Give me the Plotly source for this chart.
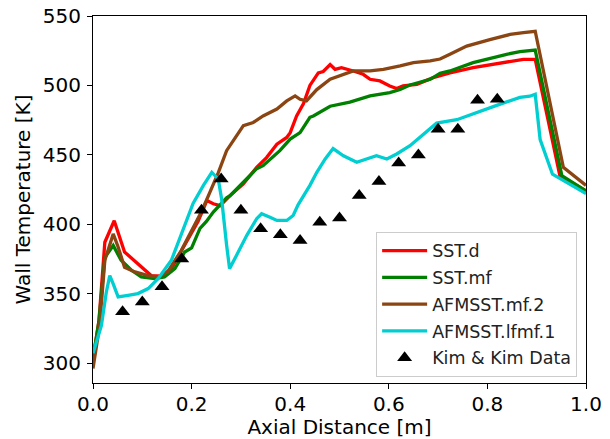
import plotly.graph_objects as go

# Axial distance [m] and wall temperature [K] for each turbulence model
x_sst_d = [0.0, 0.012, 0.024, 0.043, 0.064, 0.091, 0.118, 0.139, 0.159, 0.178,
           0.197, 0.213, 0.231, 0.244, 0.258, 0.278, 0.305, 0.332, 0.352, 0.373,
           0.393, 0.400, 0.413, 0.427, 0.440, 0.457, 0.467, 0.481, 0.491, 0.504,
           0.528, 0.548, 0.562, 0.582, 0.602, 0.616, 0.629, 0.657, 0.690, 0.724,
           0.771, 0.839, 0.873, 0.897, 0.947, 1.0]
y_sst_d = [303, 330, 387, 402.5, 380, 371.6, 363, 362.5, 368, 380,
           392, 402, 417, 414.7, 413.4, 420.6, 429, 441, 448, 457.7,
           462.5, 466, 478, 487, 500, 509, 510, 515, 511.6, 512.8,
           510.4, 508, 504.4, 503.2, 499.6, 497.7, 499.6, 500.8, 505.6, 509,
           512.8, 516.4, 518.8, 518.8, 435, 424]

x_sst_mf = [0.0, 0.012, 0.024, 0.041, 0.057, 0.078, 0.098, 0.125, 0.145, 0.166,
            0.186, 0.200, 0.217, 0.230, 0.244, 0.271, 0.278, 0.312, 0.332, 0.345,
            0.379, 0.400, 0.420, 0.440, 0.447, 0.481, 0.521, 0.562, 0.602, 0.623,
            0.643, 0.684, 0.704, 0.724, 0.771, 0.839, 0.866, 0.897, 0.951, 1.0]
y_sst_mf = [303, 330, 376, 384.7, 374, 366.8, 362, 360.8, 362, 368,
            380, 383, 397, 402, 408.7, 419, 420.5, 432.6, 440, 442.2,
            453, 461.3, 466, 477, 478, 485, 488, 492.4, 494.8, 497,
            500.3, 504.4, 508.8, 510.4, 516.4, 522.4, 524.3, 525.4, 435, 424]

x_afm_mf2 = [0.0, 0.0135, 0.024, 0.041, 0.051, 0.064, 0.085, 0.112, 0.132, 0.152,
             0.179, 0.200, 0.220, 0.237, 0.254, 0.271, 0.291, 0.305, 0.325, 0.345,
             0.373, 0.393, 0.410, 0.420, 0.433, 0.454, 0.481, 0.508, 0.528, 0.562,
             0.589, 0.623, 0.650, 0.684, 0.704, 0.724, 0.758, 0.805, 0.846, 0.873,
             0.897, 0.954, 1.0]
y_afm_mf2 = [296, 327, 374, 393, 383.6, 369, 365.6, 363, 362, 366,
             381, 396, 409, 423, 437, 453, 464, 471, 473.3, 478,
             483, 488.8, 492.4, 490, 488.8, 497, 504.4, 508, 510.4, 510.4,
             511.6, 514, 516.4, 517.6, 519, 522.4, 528.3, 533, 536.7, 538,
             539, 441, 428]

x_afm_lfmf1 = [0.0, 0.017, 0.027, 0.034, 0.041, 0.051, 0.071, 0.091, 0.112, 0.132,
               0.159, 0.176, 0.203, 0.224, 0.241, 0.254, 0.261, 0.271, 0.277, 0.291,
               0.312, 0.332, 0.342, 0.359, 0.373, 0.393, 0.406, 0.416, 0.427, 0.440,
               0.454, 0.471, 0.487, 0.508, 0.535, 0.555, 0.575, 0.596, 0.616, 0.643,
               0.663, 0.684, 0.697, 0.738, 0.785, 0.826, 0.866, 0.886, 0.897, 0.907,
               0.932, 1.0]
y_afm_lfmf1 = [307, 327, 351, 363, 357, 347.7, 348.8, 350, 353.6, 360.8,
               374, 390, 415, 428, 437.4, 432.6, 418, 385, 368, 377.5,
               392, 404, 407.5, 405, 402.7, 402.7, 406.3, 414, 420, 428,
               437.4, 447, 454.5, 449.3, 444.6, 447, 449.3, 447, 450.6, 456.5,
               462.5, 468.5, 472.8, 475.3, 481.6, 486.5, 491.3, 492.2, 493.6, 461,
               436, 422]

# Experimental measurements (Kim & Kim)
x_exp = [0.06, 0.10, 0.14, 0.18, 0.22, 0.26, 0.30, 0.34, 0.38, 0.42,
         0.46, 0.50, 0.54, 0.58, 0.62, 0.66, 0.70, 0.74, 0.78, 0.82]
y_exp = [337, 344, 355, 375, 410, 432.6, 410, 396.7, 392.4, 388.3,
         401.5, 404.4, 420.6, 430.7, 444.1, 449.8, 468.5, 468.5, 489.3, 490]

FONT = "DejaVu Sans"
LW = 3.3

fig = go.Figure()
series = [
    ("SST.d", x_sst_d, y_sst_d, "#ff0000"),
    ("SST.mf", x_sst_mf, y_sst_mf, "#008000"),
    ("AFMSST.mf.2", x_afm_mf2, y_afm_mf2, "#8b4513"),
    ("AFMSST.lfmf.1", x_afm_lfmf1, y_afm_lfmf1, "#00ced1"),
]
for name, xs, ys, color in series:
    fig.add_trace(go.Scatter(x=xs, y=ys, mode="lines", name=name,
                             legendgroup=name,
                             line=dict(color=color, width=LW)))

fig.add_trace(go.Scatter(x=x_exp, y=y_exp, mode="markers", name="Kim & Kim Data",
                         legendgroup="exp",
                         marker=dict(symbol="triangle-up", size=13, color="black",
                                     line=dict(width=0))))

axis_common = dict(
    showline=True, linecolor="black", linewidth=1, mirror=True,
    ticks="outside", ticklen=5, tickwidth=1, tickcolor="black",
    showgrid=False, zeroline=False, automargin=False,
    tickfont=dict(family=FONT, size=20, color="black"),
)

fig.update_layout(
    width=610, height=439,
    margin=dict(l=93, r=24, t=16, b=56),
    paper_bgcolor="white", plot_bgcolor="white",
    font=dict(family=FONT, color="black"),
    xaxis=dict(range=[0, 1.0], tickvals=[0, 0.2, 0.4, 0.6, 0.8, 1.0],
               ticktext=["0.0", "0.2", "0.4", "0.6", "0.8", "1.0"],
               ticklabelstandoff=-2,
               title=dict(text="Axial Distance [m]", font=dict(family=FONT, size=20),
                          standoff=7),
               **axis_common),
    yaxis=dict(range=[285.6, 550], tickvals=[300, 350, 400, 450, 500, 550],
               ticklabelstandoff=2,
               title=dict(text="Wall Temperature [K]", font=dict(family=FONT, size=20),
                          standoff=6),
               **axis_common),
    legend=dict(x=0.982, xanchor="right", y=0.017, yanchor="bottom",
                bgcolor="rgba(255,255,255,0.8)", bordercolor="#cccccc", borderwidth=1,
                font=dict(family=FONT, size=17.5, color="#222222"),
                itemwidth=45, tracegroupgap=1),
    showlegend=True,
)

fig.write_html("out.html")
